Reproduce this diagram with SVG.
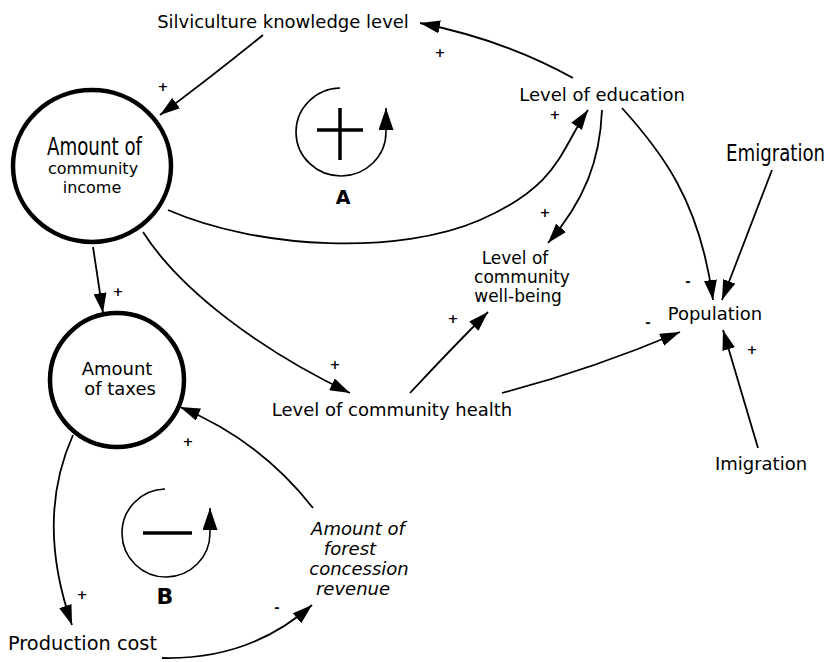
<svg xmlns="http://www.w3.org/2000/svg" width="830" height="662" viewBox="0 0 830 662">
<style>
text{font-family:"DejaVu Sans","Liberation Sans",sans-serif;fill:#000}
.lbl{font-size:18px}
.it{font-style:italic}
.sign{font-size:13px;font-weight:bold;text-anchor:middle}
.node{fill:none;stroke:#000;stroke-width:4.5}
.conn path{fill:none;stroke:#000;stroke-width:1.8;marker-end:url(#ah)}
.loop{fill:none;stroke:#000;stroke-width:1.6}
.bar{stroke:#000;stroke-width:3.5}
.mid{text-anchor:middle}
</style>
<defs>
<marker id="ah" markerUnits="userSpaceOnUse" markerWidth="20" markerHeight="13" refX="20" refY="6.5" orient="auto">
<path d="M0,0 L20,6.5 L0,13 z" fill="#000"/>
</marker>
<marker id="ahl" markerUnits="userSpaceOnUse" markerWidth="22" markerHeight="15" refX="22" refY="7.5" orient="auto">
<path d="M0,0 L22,7.5 L0,15 z" fill="#000"/>
</marker>
</defs>
<rect width="830" height="662" fill="#fff"/>

<g id="connectors" class="conn">
<path d="M263,35 Q210,78 160,115"/>
<path d="M573,78 Q505,40 420,23"/>
<path d="M168,210 C260,250 400,255 480,220 S560,150 588,110"/>
<path d="M602,110 C600,160 585,200 548,243"/>
<path d="M622,108 C660,150 700,200 713,300"/>
<path d="M772,170 L722,300"/>
<path d="M758,448 L723,330"/>
<path d="M502,393 Q590,370 680,332"/>
<path d="M410,393 Q450,350 488,312"/>
<path d="M143,232 C180,290 260,350 350,393"/>
<path d="M93,247 L103,313"/>
<path d="M313,508 Q260,440 180,407"/>
<path d="M73,435 Q35,520 72,625"/>
<path d="M162,658 Q250,660 312,605"/>
</g>

<g id="signs">
<text class="sign" x="163" y="91">+</text>
<text class="sign" x="440" y="57">+</text>
<text class="sign" x="555" y="119">+</text>
<text class="sign" x="545" y="217">+</text>
<text class="sign" x="118" y="296">+</text>
<text class="sign" x="335" y="369">+</text>
<text class="sign" x="453" y="323">+</text>
<text class="sign" x="752" y="354">+</text>
<text class="sign" x="188" y="446">+</text>
<text class="sign" x="82" y="599">+</text>
<text class="sign" x="688" y="286">-</text>
<text class="sign" x="648" y="327">-</text>
<text class="sign" x="277" y="612">-</text>
</g>

<g id="loop-A">
<path class="loop" d="M340,88 A45,44 0 1 0 386,132 L386,108" marker-end="url(#ahl)"/>
<line class="bar" x1="317" y1="130" x2="363" y2="130"/>
<line class="bar" x1="340" y1="108" x2="340" y2="160"/>
<text x="343" y="204" font-size="19" font-weight="bold" class="mid">A</text>
</g>

<g id="loop-B">
<path class="loop" d="M165,489 A44,44 0 1 0 210,533 L210,508" marker-end="url(#ahl)"/>
<line class="bar" x1="143" y1="533" x2="192" y2="533"/>
<text x="165" y="604" font-size="22" font-weight="bold" class="mid">B</text>
</g>

<g id="node-silviculture">
<text class="lbl mid" x="283" y="28">Silviculture knowledge level</text>
</g>

<g id="node-income">
<ellipse class="node" cx="92" cy="166" rx="79" ry="76"/>
<text transform="translate(47,155) scale(0.76,1)" font-size="24">Amount of</text>
<text x="93" y="174" font-size="16" class="mid">community</text>
<text x="92" y="193" font-size="16" class="mid">income</text>
</g>

<g id="node-taxes">
<ellipse class="node" cx="117" cy="380" rx="67" ry="67"/>
<text x="117" y="375" class="lbl mid">Amount</text>
<text x="120" y="395" class="lbl mid">of taxes</text>
</g>

<g id="node-education">
<text class="lbl mid" x="602" y="101">Level of education</text>
</g>

<g id="node-emigration">
<text transform="translate(726,161) scale(0.79,1)" font-size="23">Emigration</text>
</g>

<g id="node-wellbeing">
<text x="515" y="264" font-size="17" class="mid">Level of</text>
<text x="522" y="283" font-size="17" class="mid">community</text>
<text x="518" y="302" font-size="17" class="mid">well-being</text>
</g>

<g id="node-population">
<text class="lbl mid" x="715" y="320">Population</text>
</g>

<g id="node-imigration">
<text class="lbl mid" x="761" y="470">Imigration</text>
</g>

<g id="node-health">
<text class="lbl mid" x="392" y="416">Level of community health</text>
</g>

<g id="node-revenue">
<text class="lbl it mid" x="358" y="535">Amount of</text>
<text class="lbl it mid" x="350" y="555">forest</text>
<text class="lbl it mid" x="359" y="575">concession</text>
<text class="lbl it mid" x="353" y="595">revenue</text>
</g>

<g id="node-production">
<text x="8" y="650" font-size="19" textLength="149" lengthAdjust="spacingAndGlyphs">Production cost</text>
</g>
</svg>
